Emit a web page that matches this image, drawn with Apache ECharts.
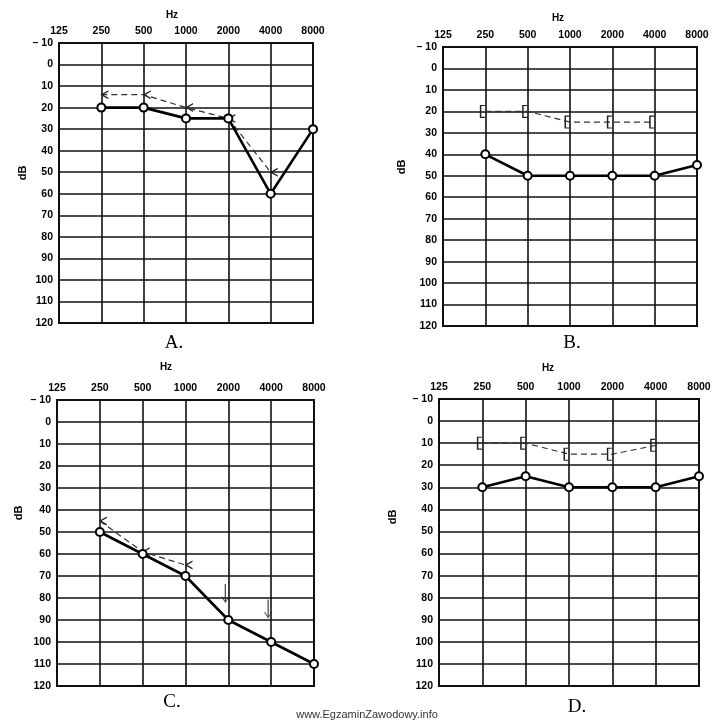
<!DOCTYPE html>
<html>
<head>
<meta charset="utf-8">
<script src="https://cdn.jsdelivr.net/npm/echarts@6/dist/echarts.min.js"></script>
<style>html,body{margin:0;padding:0;background:#fff}#c{width:721px;height:723px}</style>
</head>
<body>
<div id="c"></div>
<script>
// ---- data ----
var freqs = ['125', '250', '500', '1000', '2000', '4000', '8000'];
var dbMin = -10, dbMax = 120, dbStep = 10;
var panelNames = ['A.', 'B.', 'C.', 'D.'];
var A_air  = [null, 20, 20, 25, 25, 60, 30];
var A_bone = [null, 14, 14, 20, 25, 50, null];
var B_air  = [null, 40, 50, 50, 50, 50, 45];
var B_bone = [null, 20, 20, 25, 25, 25, null];
var C_air  = [null, 50, 60, 70, 90, 100, 110];
var C_bone = [null, 45, 59, 65, null, null, null];
var C_noResponse = [null, null, null, null, 78, 85, null];
var D_air  = [null, 30, 25, 30, 30, 30, 25];
var D_bone = [null, 10, 10, 15, 15, 11, null];

// ---- layout ----
var boxes = [
  {left: 59, top: 43, width: 254, height: 280},
  {left: 443, top: 47, width: 254, height: 279},
  {left: 57, top: 400, width: 257, height: 286},
  {left: 439, top: 399, width: 260, height: 287}
];
var hzPos = [[172, 15], [558, 18], [166, 367], [548, 368]];
var dbPos = [[23, 173], [402, 167], [19, 513], [393, 517]];
var letterPos = [[174, 343], [572, 343], [172, 702], [577, 707]];

var BONE_LT = 'path://M10,0 L0,6 L10,12 L10,10 L3.5,6 L10,2 Z';
var BONE_BR = 'path://M0,0 L6,0 L6,1.6 L1.8,1.6 L1.8,18.4 L6,18.4 L6,20 L0,20 Z';
var ARROW_DN = 'path://M4.2,0 L5.8,0 L5.8,26 L9,19.5 L10,20.3 L5,30 L0,20.3 L1,19.5 L4.2,26 Z';

var grids = [], xAxes = [], yAxes = [], series = [], graphics = [];
var LABEL_FONT = '"Liberation Sans", Arial, sans-serif';

boxes.forEach(function (b, i) {
  grids.push({left: b.left, top: b.top, width: b.width, height: b.height,
    show: true, borderColor: '#111', borderWidth: 2, backgroundColor: 'transparent'});
  xAxes.push({type: 'category', gridIndex: i, data: freqs, position: 'top', boundaryGap: false,
    axisLine: {show: false}, axisTick: {show: false},
    axisLabel: {color: '#000', fontWeight: 'bold', fontSize: 10.5, fontFamily: LABEL_FONT, margin: 6, interval: 0},
    splitLine: {show: true, lineStyle: {color: '#111', width: 1.6}}});
  yAxes.push({type: 'value', gridIndex: i, inverse: true, min: dbMin, max: dbMax, interval: dbStep,
    axisLine: {show: false}, axisTick: {show: false},
    axisLabel: {color: '#000', fontWeight: 'bold', fontSize: 10.5, fontFamily: LABEL_FONT, margin: 6,
      formatter: function (v) { return v < 0 ? '\u2013 ' + Math.abs(v) : String(v); }},
    splitLine: {show: true, lineStyle: {color: '#111', width: 1.6}}});
  graphics.push({type: 'text', x: hzPos[i][0], y: hzPos[i][1],
    style: {text: 'Hz', font: 'bold 10px ' + LABEL_FONT, fill: '#000', textAlign: 'center', textVerticalAlign: 'middle'}});
  graphics.push({type: 'text', x: dbPos[i][0], y: dbPos[i][1], rotation: Math.PI / 2,
    style: {text: 'dB', font: 'bold 11px ' + LABEL_FONT, fill: '#000', textAlign: 'center', textVerticalAlign: 'middle'}});
  graphics.push({type: 'text', x: letterPos[i][0], y: letterPos[i][1],
    style: {text: panelNames[i], font: '19px "Liberation Serif", "Times New Roman", serif', fill: '#000', textAlign: 'center', textVerticalAlign: 'middle'}});
});

function airSeries(i, data) {
  return {type: 'line', xAxisIndex: i, yAxisIndex: i, data: data, z: 5,
    symbol: 'emptyCircle', symbolSize: 8, lineStyle: {color: '#000', width: 2.6},
    itemStyle: {color: '#000', borderColor: '#000', borderWidth: 1.5}, animation: false};
}
function boneSeries(i, data, sym, size, offset) {
  return {type: 'line', xAxisIndex: i, yAxisIndex: i, data: data, z: 4,
    symbol: sym, symbolSize: size, symbolOffset: offset, showAllSymbol: true,
    lineStyle: {color: '#333', width: 1.2, type: [6, 4]},
    itemStyle: {color: '#222', borderWidth: 0}, animation: false};
}
series.push(airSeries(0, A_air));
series.push(boneSeries(0, A_bone, BONE_LT, [8, 9], [3, 0]));
series.push(airSeries(1, B_air));
series.push(boneSeries(1, B_bone, BONE_BR, [5, 13], [-3, 0]));
series.push(airSeries(2, C_air));
series.push(boneSeries(2, C_bone, BONE_LT, [8, 9], [3, 0]));
series.push({type: 'scatter', xAxisIndex: 2, yAxisIndex: 2, data: C_noResponse, z: 6,
  symbol: ARROW_DN, symbolSize: [8, 19], symbolOffset: [-3, 0],
  itemStyle: {color: '#222', borderWidth: 0}, animation: false});
series.push(airSeries(3, D_air));
series.push(boneSeries(3, D_bone, BONE_BR, [5, 13], [-3, 0]));

graphics.push({type: 'text', x: 367, y: 715,
  style: {text: 'www.EgzaminZawodowy.info', font: '11px ' + LABEL_FONT, fill: '#333', textAlign: 'center', textVerticalAlign: 'middle'}});

var chart = echarts.init(document.getElementById('c'), null, {renderer: 'canvas'});
chart.setOption({
  backgroundColor: '#fff',
  animation: false,
  grid: grids, xAxis: xAxes, yAxis: yAxes, series: series, graphic: graphics
});
</script>
</body>
</html>
